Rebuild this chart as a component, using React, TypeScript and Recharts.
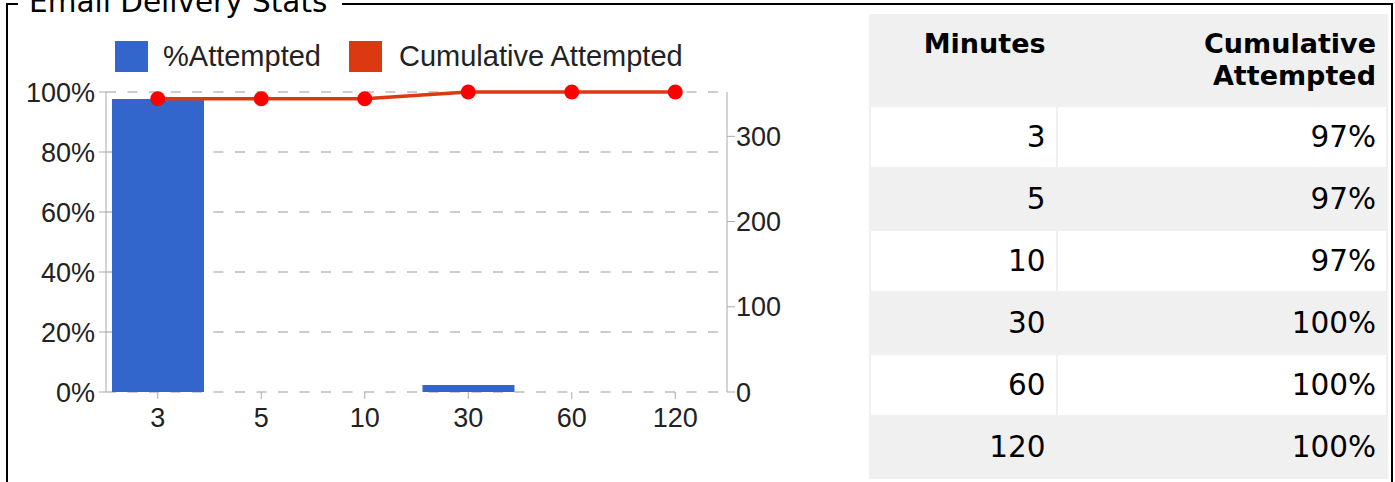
import React from 'react';
import {
  ComposedChart, Bar, Line, XAxis, YAxis, CartesianGrid, Legend,
} from 'recharts';

// minutes after send
const minutes = ['3', '5', '10', '30', '60', '120'];
// share of emails attempted in that window, %
const pctAttempted = [97.7, 0, 0, 2.3, 0, 0];
// cumulative attempted (count)
const cumulativeCount = [344, 344, 344, 352, 352, 352];
// what the table shows
const cumulativeLabels = ['97%', '97%', '97%', '100%', '100%', '100%'];

const leftTicks = [0, 20, 40, 60, 80, 100];
const rightTicks = [0, 100, 200, 300];
const rightMax = 352;

const BLUE = '#3366cc';
const RED = '#dc3912';
const chartFont = '"Liberation Sans", Arial, sans-serif';
const tableFont = '"DejaVu Sans", sans-serif';

const data = minutes.map((m, i) => ({
  min: m,
  pct: pctAttempted[i],
  cum: cumulativeCount[i],
}));

const tickStyle = { fontSize: 27, fill: '#222', fontFamily: chartFont };

function ChartLegend(props: any) {
  const items = props.payload || [];
  return (
    <div style={{ display: 'flex', alignItems: 'center', fontFamily: chartFont, fontSize: 29, color: '#222' }}>
      {items.map((it: any, i: number) => (
        <div key={i} style={{ display: 'flex', alignItems: 'center', marginRight: 28 }}>
          <span style={{ display: 'inline-block', width: 33, height: 31, background: it.color, marginRight: i === 0 ? 15 : 17 }} />
          <span style={{ lineHeight: '31px', whiteSpace: 'nowrap' }}>{it.value}</span>
        </div>
      ))}
    </div>
  );
}

const border = '#000';

export default function App() {
  const cell: React.CSSProperties = {
    background: '#fff',
    textAlign: 'right',
    verticalAlign: 'middle',
    padding: '0 10px 0 0',
    height: 60,
    boxSizing: 'border-box',
    fontSize: 29.5,
    fontFamily: tableFont,
    color: '#000',
  };
  const head: React.CSSProperties = {
    textAlign: 'right',
    verticalAlign: 'top',
    padding: '12px 10px 0 0',
    height: 89,
    boxSizing: 'border-box',
    fontSize: 27,
    lineHeight: '31.5px',
    fontFamily: tableFont,
    fontWeight: 'bold',
    color: '#000',
  };

  return (
    <div style={{ position: 'absolute', left: 0, top: 0, width: 1395, height: 482, overflow: 'hidden', background: '#fff' }}>
      {/* fieldset frame */}
      <div style={{ position: 'absolute', left: 6, top: 3, width: 12, height: 2, background: border }} />
      <div style={{ position: 'absolute', left: 342, top: 3, width: 1051, height: 2, background: border }} />
      <div style={{ position: 'absolute', left: 6, top: 3, width: 2, height: 479, background: border }} />
      <div style={{ position: 'absolute', left: 1391, top: 3, width: 2, height: 479, background: border }} />
      <div style={{ position: 'absolute', left: 29, top: -12.5, fontFamily: tableFont, fontSize: 29.5, lineHeight: '29.5px', color: '#000', whiteSpace: 'nowrap' }}>
        Email Delivery Stats
      </div>

      <div style={{ position: 'absolute', left: 0, top: 0 }}>
        <ComposedChart
          width={860}
          height={482}
          data={data}
          margin={{ top: 92, right: 53, bottom: 60, left: 46 }}
        >
          <CartesianGrid yAxisId="left" vertical={false} stroke="#999" strokeDasharray="10 11.5" />
          <XAxis
            dataKey="min"
            axisLine={false}
            tickLine={{ stroke: '#aaa' }}
            tickSize={7}
            tickMargin={9}
            height={30}
            interval={0}
            tick={tickStyle}
          />
          <YAxis
            yAxisId="left"
            domain={[0, 100]}
            ticks={leftTicks}
            tickFormatter={(v: number) => `${v}%`}
            axisLine={{ stroke: '#aaa' }}
            tickLine={{ stroke: '#aaa' }}
            tickSize={7}
            tickMargin={4}
            width={60}
            tick={tickStyle}
          />
          <YAxis
            yAxisId="right"
            orientation="right"
            domain={[0, rightMax]}
            ticks={rightTicks}
            axisLine={{ stroke: '#aaa' }}
            tickLine={{ stroke: '#aaa' }}
            tickSize={8}
            tickMargin={1}
            width={80}
            tick={tickStyle}
          />
          <Legend
            verticalAlign="middle"
            layout="horizontal"
            wrapperStyle={{ top: 41, left: 115, width: 'auto', height: 'auto' }}
            content={ChartLegend}
          />
          <Bar yAxisId="left" dataKey="pct" name="%Attempted" fill={BLUE} barSize={92} isAnimationActive={false} />
          <Line
            yAxisId="right"
            type="linear"
            dataKey="cum"
            name="Cumulative Attempted"
            stroke={RED}
            strokeWidth={3.5}
            dot={{ r: 7.5, fill: '#ff0000', stroke: 'none' }}
            activeDot={false}
            isAnimationActive={false}
          />
        </ComposedChart>
      </div>

      {/* data table */}
      <table
        style={{
          position: 'absolute', left: 869, top: 14, width: 519,
          background: '#f0f0f0', borderSpacing: 2.5, borderCollapse: 'separate', tableLayout: 'fixed',
        }}
      >
        <colgroup>
          <col style={{ width: 184 }} />
          <col style={{ width: 327.5 }} />
        </colgroup>
        <thead>
          <tr>
            <th style={head}>Minutes</th>
            <th style={head}>Cumulative<br />Attempted</th>
          </tr>
        </thead>
        <tbody>
          {minutes.map((m, i) => {
            const bg = i % 2 === 0 ? '#fff' : '#f0f0f0';
            return (
              <tr key={m}>
                <td style={{ ...cell, background: bg }}>{m}</td>
                <td style={{ ...cell, background: bg }}>{cumulativeLabels[i]}</td>
              </tr>
            );
          })}
        </tbody>
      </table>
    </div>
  );
}
